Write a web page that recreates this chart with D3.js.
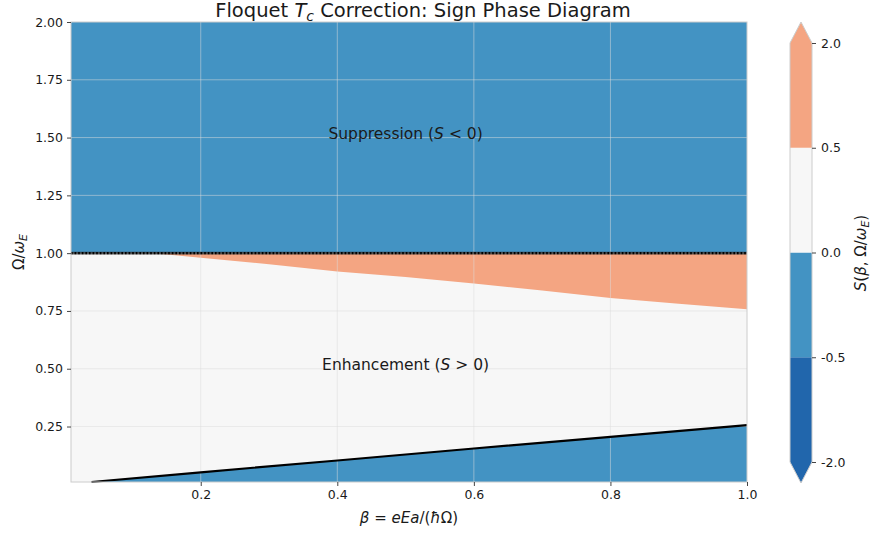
<!DOCTYPE html>
<html>
<head>
<meta charset="utf-8">
<script src="https://cdn.jsdelivr.net/npm/d3@7"></script>
<style>
    body { margin: 0; background: #ffffff; }
    svg text { font-family: "DejaVu Sans", sans-serif; fill: #1a1a1a; }
</style>
</head>
<body>
<div id="chart"></div>
<script>
// axis ranges and ticks
const betaRange = [0.01, 1.0];
const omegaRange = [0.01, 2.0];
const betaTicks = [0.2, 0.4, 0.6, 0.8, 1.0];
const omegaTicks = [0.25, 0.50, 0.75, 1.00, 1.25, 1.50, 1.75, 2.00];

// S = 0 line at Omega/omega_E = 1
const resonanceOmega = 1.0;

// edge of the positive (orange) lobe under the resonance line
const lobeBeta  = [0.13, 0.2, 0.3, 0.4, 0.5, 0.6, 0.7, 0.8, 0.9, 1.0];
const lobeOmega = [1.0, 0.980, 0.952, 0.921, 0.897, 0.869, 0.838, 0.806, 0.781, 0.757];

// lower boundary (solid black), S < 0 below it
const lowBeta  = [0.04, 0.2, 0.4, 0.6, 0.8, 1.0];
const lowOmega = [0.010, 0.052, 0.103, 0.155, 0.205, 0.256];

// colour levels
const levels = [-2.0, -0.5, 0.0, 0.5, 2.0];
const levelColors = ["#2166ac", "#4393c3", "#f7f7f7", "#f4a582"];

const notes = [
    {beta: 0.5, omega: 1.5, label: "Suppression", sign: "<"},
    {beta: 0.5, omega: 0.5, label: "Enhancement", sign: ">"}
];

let margin = {top: 22, right: 124, bottom: 53, left: 71};
let width = 871 - margin.left - margin.right;
let height = 535 - margin.top - margin.bottom;

let svg = d3.select("#chart").append("svg")
    .attr("width", 871)
    .attr("height", 535);

let g = svg.append("g")
    .attr("transform", "translate(" + margin.left + "," + margin.top + ")");

let x = d3.scaleLinear().domain(betaRange).range([0, width]);
let y = d3.scaleLinear().domain(omegaRange).range([height, 0]);

let colorOf = function (v) {
    // pick the band the value falls in
    for (let i = 0; i < levelColors.length; i++) {
        if (v >= levels[i] && v < levels[i + 1]) return levelColors[i];
    }
    return levelColors[levelColors.length - 1];
};

// background: 0 < S < 0.5
g.append("rect")
    .attr("width", width)
    .attr("height", height)
    .attr("fill", colorOf(0.2));

// above resonance: S < 0
g.append("rect")
    .attr("x", 0)
    .attr("y", y(omegaRange[1]))
    .attr("width", width)
    .attr("height", y(resonanceOmega) - y(omegaRange[1]))
    .attr("fill", colorOf(-0.2));

// orange lobe
let lobe = lobeBeta.map((b, i) => [b, lobeOmega[i]]);
g.append("path")
    .datum(lobe)
    .attr("fill", colorOf(1.0))
    .attr("d", d3.area()
        .x(d => x(d[0]))
        .y0(d => y(d[1]))
        .y1(y(resonanceOmega)));

// region under the black line
let low = lowBeta.map((b, i) => [b, lowOmega[i]]);
g.append("path")
    .datum(low)
    .attr("fill", colorOf(-0.2))
    .attr("d", d3.area()
        .x(d => x(d[0]))
        .y0(y(omegaRange[0]))
        .y1(d => y(d[1])));

// grid
g.append("g").selectAll("line")
    .data(betaTicks.filter(d => d < 1))
    .enter().append("line")
    .attr("x1", d => x(d)).attr("x2", d => x(d))
    .attr("y1", 0).attr("y2", height)
    .attr("stroke", "#dddddd").attr("stroke-opacity", 0.5).attr("stroke-width", 1);
g.append("g").selectAll("line")
    .data(omegaTicks.filter(d => d < 2))
    .enter().append("line")
    .attr("y1", d => y(d)).attr("y2", d => y(d))
    .attr("x1", 0).attr("x2", width)
    .attr("stroke", "#dddddd").attr("stroke-opacity", 0.5).attr("stroke-width", 1);

// lower boundary line
g.append("path")
    .datum(low)
    .attr("fill", "none")
    .attr("stroke", "#000")
    .attr("stroke-width", 2.2)
    .attr("d", d3.line().x(d => x(d[0])).y(d => y(d[1])));

// resonance line, dotted over a grey band
g.append("line")
    .attr("x1", 0).attr("x2", width)
    .attr("y1", y(resonanceOmega)).attr("y2", y(resonanceOmega))
    .attr("stroke", "#333").attr("stroke-opacity", 0.8).attr("stroke-width", 2.6);
g.append("line")
    .attr("x1", 0).attr("x2", width)
    .attr("y1", y(resonanceOmega)).attr("y2", y(resonanceOmega))
    .attr("stroke", "#000").attr("stroke-width", 2.2)
    .attr("stroke-dasharray", "1.6,2");

// frame
g.append("rect")
    .attr("width", width).attr("height", height)
    .attr("fill", "none").attr("stroke", "#cccccc").attr("stroke-width", 1);

// axes
let xAxis = g.append("g")
    .attr("transform", "translate(0," + height + ")")
    .call(d3.axisBottom(x).tickValues(betaTicks).tickFormat(d3.format(".1f")).tickSize(4).tickPadding(4));
let yAxis = g.append("g")
    .call(d3.axisLeft(y).tickValues(omegaTicks).tickFormat(d3.format(".2f")).tickSize(4).tickPadding(4));
[xAxis, yAxis].forEach(a => {
    a.select(".domain").remove();
    a.selectAll(".tick line").attr("stroke", "#444");
    a.selectAll(".tick text").attr("font-size", 12.5).attr("fill", "#1a1a1a")
        .attr("font-family", "DejaVu Sans");
});

// annotations
notes.forEach(n => {
    let t = g.append("text")
        .attr("x", x(n.beta))
        .attr("y", y(n.omega) + 1)
        .attr("text-anchor", "middle")
        .attr("font-size", 15.5);
    t.append("tspan").text(n.label + " (");
    t.append("tspan").attr("font-style", "italic").text("S");
    t.append("tspan").text(" " + n.sign + " 0)");
});

// title
let title = svg.append("text")
    .attr("x", 423)
    .attr("y", 17)
    .attr("text-anchor", "middle")
    .attr("font-size", 19.5);
title.append("tspan").text("Floquet ");
title.append("tspan").attr("font-style", "italic").text("T");
title.append("tspan").attr("font-style", "italic").attr("font-size", 14).attr("dy", 3.5).text("c");
title.append("tspan").attr("dy", -3.5).text(" Correction: Sign Phase Diagram");

// x label
let xl = svg.append("text")
    .attr("x", margin.left + width / 2)
    .attr("y", 523)
    .attr("text-anchor", "middle")
    .attr("font-size", 15);
xl.append("tspan").attr("font-style", "italic").text("β");
xl.append("tspan").text(" = ");
xl.append("tspan").attr("font-style", "italic").text("eEa");
xl.append("tspan").text("/(");
xl.append("tspan").attr("font-style", "italic").text("ħ");
xl.append("tspan").text("Ω)");

// y label
let yl = svg.append("text")
    .attr("transform", "translate(24," + (margin.top + height / 2) + ") rotate(-90)")
    .attr("text-anchor", "middle")
    .attr("font-size", 15);
yl.append("tspan").text("Ω/");
yl.append("tspan").attr("font-style", "italic").text("ω");
yl.append("tspan").attr("font-style", "italic").attr("font-size", 11).attr("dy", 3).text("E");

// colorbar
let cb = svg.append("g").attr("transform", "translate(790,0)");
let cbW = 22;
let cy = d3.scalePoint().domain(levels).range([462, 43]);
let tri = 21;

levelColors.forEach((c, i) => {
    cb.append("rect")
        .attr("x", 0)
        .attr("y", cy(levels[i + 1]))
        .attr("width", cbW)
        .attr("height", cy(levels[i]) - cy(levels[i + 1]))
        .attr("fill", c);
});
cb.append("path")
    .attr("d", "M0," + cy(levels[4]) + "L" + cbW / 2 + "," + (cy(levels[4]) - tri) + "L" + cbW + "," + cy(levels[4]) + "Z")
    .attr("fill", levelColors[3]);
cb.append("path")
    .attr("d", "M0," + cy(levels[0]) + "L" + cbW / 2 + "," + (cy(levels[0]) + tri) + "L" + cbW + "," + cy(levels[0]) + "Z")
    .attr("fill", levelColors[0]);
cb.append("path")
    .attr("d", "M0," + cy(levels[4]) + "L" + cbW / 2 + "," + (cy(levels[4]) - tri) + "L" + cbW + "," + cy(levels[4]) +
        "L" + cbW + "," + cy(levels[0]) + "L" + cbW / 2 + "," + (cy(levels[0]) + tri) + "L0," + cy(levels[0]) + "Z")
    .attr("fill", "none").attr("stroke", "#cccccc").attr("stroke-width", 1);

let cAxis = cb.append("g")
    .attr("transform", "translate(" + cbW + ",0)")
    .call(d3.axisRight(cy).tickFormat(d => d.toFixed(1)).tickSize(4).tickPadding(5));
cAxis.select(".domain").remove();
cAxis.selectAll(".tick line").attr("stroke", "#444");
cAxis.selectAll(".tick text").attr("font-size", 12.5).attr("fill", "#1a1a1a").attr("font-family", "DejaVu Sans");

let cl = svg.append("text")
    .attr("transform", "translate(866,253) rotate(-90)")
    .attr("text-anchor", "middle")
    .attr("font-size", 15);
cl.append("tspan").attr("font-style", "italic").text("S");
cl.append("tspan").text("(");
cl.append("tspan").attr("font-style", "italic").text("β");
cl.append("tspan").text(", Ω/");
cl.append("tspan").attr("font-style", "italic").text("ω");
cl.append("tspan").attr("font-style", "italic").attr("font-size", 11).attr("dy", 3).text("E");
cl.append("tspan").attr("dy", -3).text(")");
</script>
</body>
</html>
